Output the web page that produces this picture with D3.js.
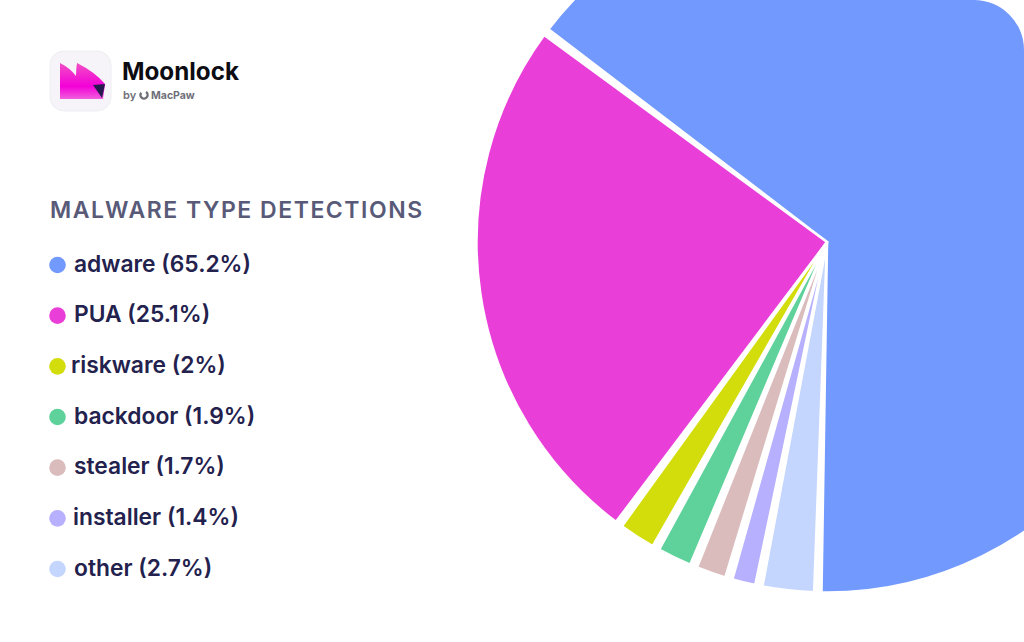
<!DOCTYPE html>
<html>
<head>
<meta charset="utf-8">
<script src="https://cdn.jsdelivr.net/npm/d3@7"></script>
<style>
  html, body { margin: 0; padding: 0; background: #fff; }
  svg { display: block; }
  text { font-family: Inter, "Noto Sans", sans-serif; }
</style>
</head>
<body>
<svg id="chart" width="1024" height="642"></svg>
<script>
// Malware type shares, in percent; slices run anticlockwise from the bottom of the pie.
const categories = ["adware", "PUA", "riskware", "backdoor", "stealer", "installer", "other"];
const shares = [65.2, 25.1, 2, 1.9, 1.7, 1.4, 2.7];
const shareLabels = ["65.2%", "25.1%", "2%", "1.9%", "1.7%", "1.4%", "2.7%"];
const colors = ["#7299fd", "#e93fd8", "#d3dd0c", "#5fd29b", "#dbbcbc", "#b7b0fe", "#c4d6fe"];
const legendTextX = [74, 74, 71, 74, 74, 73, 74];

const svg = d3.select("#chart");
const defs = svg.append("defs");

// The pie is cut by a panel with a rounded top-right corner.
defs.append("clipPath").attr("id", "corner")
  .append("path").attr("d", "M0 0H974A50 50 0 0 1 1024 50V642H0Z");

const cx = 827, cy = 242, radius = 350.5;
const start = 181.5 * Math.PI / 180;
const gap = 1.2 * Math.PI / 180; // angular gap that widens the separators towards the rim

const pie = d3.pie().sort(null).value(d => d)
  .startAngle(start).endAngle(start - 2 * Math.PI);
const arc = d3.arc().innerRadius(0).outerRadius(radius);

svg.append("g")
  .attr("clip-path", "url(#corner)")
  .append("g")
  .attr("transform", `translate(${cx},${cy})`)
  .selectAll("path")
  .data(pie(shares))
  .join("path")
  .attr("d", d => arc({ startAngle: d.startAngle - gap / 2, endAngle: d.endAngle + gap / 2 }))
  .attr("fill", (d, i) => colors[i])
  .attr("stroke", "#fff")
  .attr("stroke-width", 2.5)
  .attr("stroke-linejoin", "miter");

// Legend
const legendY = d3.scalePoint().domain(categories).range([265, 569]);

svg.append("text")
  .attr("x", 50).attr("y", 218)
  .attr("font-size", 23).attr("font-weight", 600)
  .attr("letter-spacing", 1.53).attr("fill", "#585a78")
  .text("MALWARE TYPE DETECTIONS");

const rows = svg.append("g").selectAll("g").data(categories).join("g");
rows.append("circle")
  .attr("cx", 57.5).attr("cy", d => legendY(d)).attr("r", 8.3)
  .attr("fill", (d, i) => colors[i]);
rows.append("text")
  .attr("x", (d, i) => legendTextX[i]).attr("y", d => legendY(d) + 6.5)
  .attr("font-size", 22.8).attr("font-weight", 600).attr("fill", "#23214d")
  .text((d, i) => `${d} (${shareLabels[i]})`);

// Brand mark
const brand = defs.append("linearGradient").attr("id", "brandFill")
  .attr("x1", 0).attr("y1", 0).attr("x2", 0).attr("y2", 1);
brand.append("stop").attr("offset", 0).attr("stop-color", "#f04fc4");
brand.append("stop").attr("offset", 0.65).attr("stop-color", "#f400d8");
brand.append("stop").attr("offset", 1).attr("stop-color", "#f060dc");

const logo = svg.append("g");
logo.append("rect").attr("x", 50).attr("y", 51).attr("width", 61).attr("height", 60)
  .attr("rx", 14).attr("fill", "#f6f3f9").attr("stroke", "#eeeef2");
logo.append("path")
  .attr("d", "M60 63Q70 68 76 76Q76 69 77 63Q95 72 105 84L103 99H60Z")
  .attr("fill", "url(#brandFill)");
logo.append("path").attr("d", "M93 85L105 84L102 98Z").attr("fill", "#241a4d");

svg.append("text").attr("x", 122).attr("y", 80)
  .attr("font-size", 24.2).attr("font-weight", 700).attr("fill", "#0c0c12").text("Moonlock");
svg.append("text").attr("x", 123).attr("y", 99)
  .attr("font-size", 11).attr("font-weight", 600).attr("fill", "#6f6f78").text("by");
svg.append("path")
  .attr("d", d3.arc().innerRadius(2.4).outerRadius(4.8).startAngle(0.6).endAngle(5.4)())
  .attr("transform", "translate(144,95)").attr("fill", "#6f6f78");
svg.append("text").attr("x", 151).attr("y", 99)
  .attr("font-size", 10.5).attr("font-weight", 700).attr("fill", "#6f6f78").text("MacPaw");
</script>
</body>
</html>
